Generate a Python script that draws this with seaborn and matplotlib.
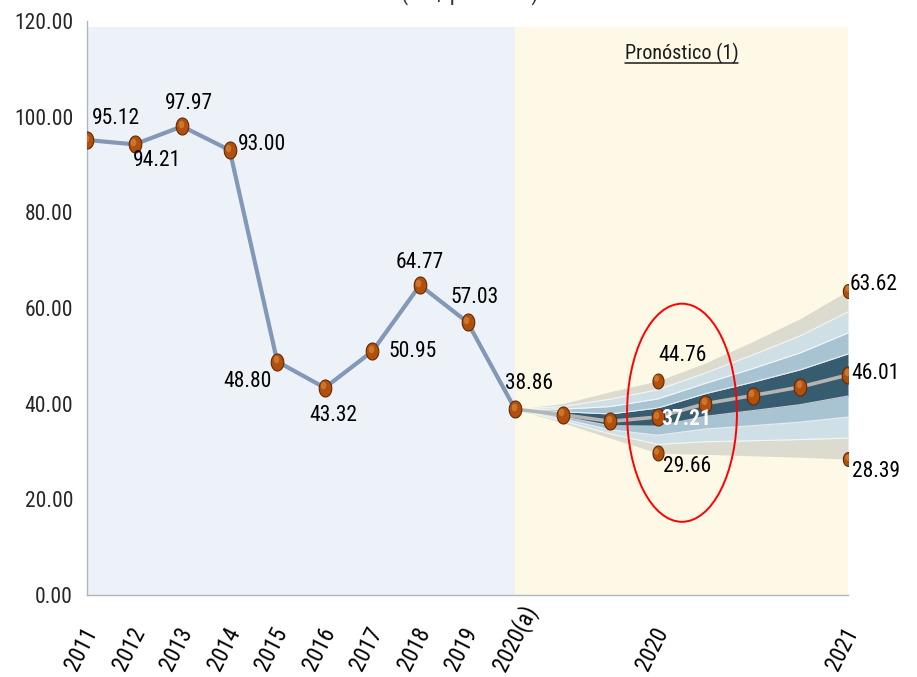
import numpy as np
import pandas as pd
import matplotlib
matplotlib.use("Agg")
import matplotlib.pyplot as plt
from matplotlib.patches import Ellipse
from matplotlib.lines import Line2D
from matplotlib.path import Path
from matplotlib.transforms import offset_copy
from matplotlib import font_manager
import seaborn as sns

# ---- data -------------------------------------------------------------
tick_labels = ["2011", "2012", "2013", "2014", "2015", "2016", "2017", "2018",
               "2019", "2020(a)", "", "", "2020", "", "", "", "2021"]

historic = [95.12, 94.21, 97.97, 93.00, 48.80, 43.32, 50.95, 64.77, 57.03, 38.86]

# forecast path (starts at the last observed value)
forecast_center = [38.86, 37.70, 36.30, 37.21, 40.00, 41.70, 43.50, 46.01]

# fan chart bands, from the outermost lower edge to the outermost upper edge
fan_low_4 = [38.86, 36.00, 32.80, 29.66, 29.40, 29.10, 28.80, 28.39]
fan_low_3 = [38.86, 36.40, 33.70, 31.50, 32.05, 32.25, 32.50, 32.80]
fan_low_2 = [38.86, 36.85, 34.55, 33.40, 34.70, 35.40, 36.15, 37.20]
fan_low_1 = [38.86, 37.30, 35.40, 35.30, 37.35, 38.55, 39.80, 41.60]
fan_up_1 = [38.86, 38.30, 37.85, 39.10, 42.10, 44.50, 47.10, 50.40]
fan_up_2 = [38.86, 38.85, 39.40, 41.00, 44.25, 47.35, 50.65, 54.80]
fan_up_3 = [38.86, 39.40, 40.95, 42.90, 46.40, 50.20, 54.20, 59.20]
fan_up_4 = [38.86, 40.00, 42.50, 44.76, 48.50, 53.00, 57.80, 63.62]

# extreme scenarios shown at the 2020 and 2021 marks
extremes_2020 = [44.76, 29.66]
extremes_2021 = [63.62, 28.39]

subtitle = "(US$ por barril)"
forecast_title = "Pronóstico (1)"

# ---- styling ----------------------------------------------------------
sns.set_style("white")
available = {f.name for f in font_manager.fontManager.ttflist}
narrow = [n for n in ["Liberation Sans Narrow", "Roboto Condensed", "Open Sans Condensed"]
          if n in available]
plt.rcParams["font.family"] = narrow + ["Liberation Sans", "DejaVu Sans"]

FS = 15.5 if narrow else 13.5
BALL = "#b0500e"
BALL_EDGE = "#652803"
BALL_HI = "#ec9a48"

# slightly tall oval marker
theta = np.linspace(0, 2 * np.pi, 60)
oval = Path(np.column_stack([0.74 * np.cos(theta), np.sin(theta)]), closed=True)

x_all = np.arange(len(tick_labels))
x_hist = x_all[:len(historic)]
x_fc = x_all[len(historic) - 1:]

fig = plt.figure(figsize=(9.17, 6.77), dpi=100)
ax = fig.add_axes([87 / 917, 82 / 677, (848 - 87) / 917, (595 - 21) / 677])
ax.set_xlim(0, len(tick_labels) - 1)
ax.set_ylim(0, 120)

# shaded periods: observed vs forecast
ax.fill_between([x_hist[0], x_hist[-1]], 0, 118.8, color="#edf2f8", lw=0, zorder=0)
ax.fill_between([x_fc[0], x_fc[-1]], 0, 118.8, color="#fef8e6", lw=0, zorder=0)

# fan chart
bands = [fan_low_4, fan_low_3, fan_low_2, fan_low_1, fan_up_1, fan_up_2, fan_up_3, fan_up_4]
band_colors = ["#dcdbd0", "#cfdfe6", "#a8c3d2", "#375c70", "#a8c3d2", "#cfdfe6", "#dcdbd0"]
for lo, hi, col in zip(bands[:-1], bands[1:], band_colors):
    ax.fill_between(x_fc, lo, hi, color=col, lw=0, zorder=1)
for edge in bands[1:-1]:
    ax.plot(x_fc, edge, color="white", lw=0.8, alpha=0.7, zorder=1.5)

# observed series and forecast path
df_hist = pd.DataFrame({"x": x_hist, "y": historic})
df_fc = pd.DataFrame({"x": x_fc, "y": forecast_center})
sns.lineplot(data=df_hist, x="x", y="y", ax=ax, color="#8198b6", lw=3.0, zorder=2)
sns.lineplot(data=df_fc, x="x", y="y", ax=ax, color="#b5b5b5", lw=2.6, zorder=2)


def balls(xs, ys, size):
    sns.scatterplot(x=xs, y=ys, ax=ax, s=size, marker=oval, color=BALL,
                    edgecolor=BALL_EDGE, linewidth=0.8, zorder=4, legend=False)
    # small highlight to give the markers a rounded look
    tr = offset_copy(ax.transData, fig=fig, x=-1.5, y=2.5, units="dots")
    ax.scatter(xs, ys, s=size * 0.2, marker=oval, color=BALL_HI, alpha=0.5, lw=0,
               zorder=5, transform=tr)


balls(x_hist, historic, 150)
balls(x_fc[1:], forecast_center[1:], 150)
balls([12, 12], extremes_2020, 115)
balls([16, 16], extremes_2021, 100)

# value labels (offsets in pixels relative to each marker)
labels = [
    (0, historic[0], 29, 22, "black"),
    (1, historic[1], 22, -16, "black"),
    (2, historic[2], 7, 23, "black"),
    (3, historic[3], 32, 6, "black"),
    (4, historic[4], -30, -20, "black"),
    (5, historic[5], 9, -28, "black"),
    (6, historic[6], 40, 0, "black"),
    (7, historic[7], 0, 23, "black"),
    (8, historic[8], 7, 25, "black"),
    (9, historic[9], 14, 26, "black"),
    (12, extremes_2020[0], 25, 25, "black"),
    (12, forecast_center[3], 29, -2, "white"),
    (12, extremes_2020[1], 29, -13, "black"),
    (16, extremes_2021[0], 26, 6, "black"),
    (16, forecast_center[-1], 28, 1, "black"),
    (16, extremes_2021[1], 28, -12, "black"),
]
for xv, yv, dx, dy, col in labels:
    ax.annotate(f"{yv:.2f}", (xv, yv), xytext=(dx, dy), textcoords="offset pixels",
                ha="center", va="center", fontsize=FS, color=col,
                fontweight="bold" if col == "white" else "normal", zorder=6)

# highlight around the 2020 scenarios
ax.add_patch(Ellipse((12.51, 38.1), 2.31, 45.6, fill=False, ec="red", lw=1.4, zorder=7))

# forecast header, underlined
head = ax.text(12.5, 113.3, forecast_title, ha="center", va="center", fontsize=FS - 1,
               color="#1a1a1a", zorder=6)
fig.canvas.draw()
bb = head.get_window_extent().transformed(ax.transData.inverted())
ax.add_line(Line2D([bb.x0, bb.x1], [bb.y0 + 0.2, bb.y0 + 0.2], color="#1a1a1a", lw=1.1, zorder=6))

# subtitle sitting at the very top edge
fig.text(470 / 917, 1 + 1 / 677, subtitle, ha="center", va="baseline", fontsize=FS + 1,
         color="#333333")

# axes and ticks
ax.set_xticks(x_all)
ax.set_xticklabels([])
# rotated year labels: they start below the axis and rise to the right
lab_tr = offset_copy(ax.get_xaxis_transform(), fig=fig, x=-10, y=-77, units="dots")
for xv, txt in zip(x_all, tick_labels):
    if txt:
        ax.text(xv, 0, txt, transform=lab_tr, rotation=63, rotation_mode="anchor",
                ha="left", va="baseline", fontsize=FS + 1, color="black", clip_on=False)
ax.set_yticks(np.arange(0, 121, 20))
ax.set_yticklabels([f"{v:.2f}" for v in np.arange(0, 121, 20)], fontsize=FS)
ax.tick_params(axis="x", direction="in", length=7, width=0.8, color="#a9a9a9")
ax.tick_params(axis="y", direction="out", length=6, width=0.8, color="#a9a9a9", pad=4)
ax.set_xlabel("")
ax.set_ylabel("")
for side in ["top", "right"]:
    ax.spines[side].set_visible(False)
for side in ["left", "bottom"]:
    ax.spines[side].set_color("#b0b4bb")
    ax.spines[side].set_linewidth(1.0)

fig.savefig("out.png", dpi=100, facecolor="white")
